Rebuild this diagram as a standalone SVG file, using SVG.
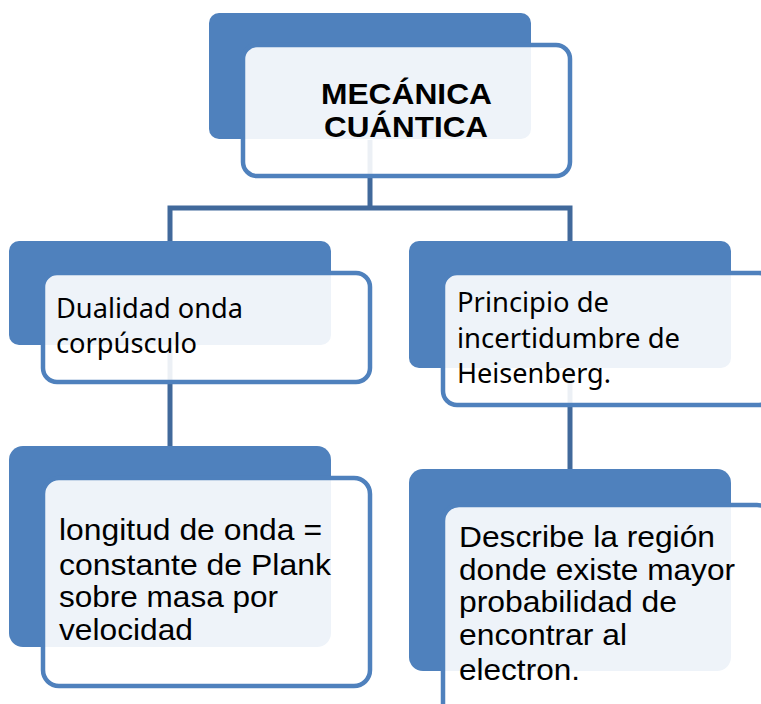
<svg xmlns="http://www.w3.org/2000/svg" width="761" height="704" viewBox="0 0 761 704">
<style>
.back{fill:#4F81BD}
.front{fill:#FFFFFF;fill-opacity:0.9;stroke:#4F81BD;stroke-width:4.5}
.conn{fill:none;stroke:#41699B;stroke-width:5}
.cal{font-family:"Noto Sans","Open Sans",sans-serif;font-size:26.5px;fill:#000}
.ari{font-family:"Liberation Sans",Arial,sans-serif;font-size:30px;fill:#000}
.title{font-family:"Liberation Sans",Arial,sans-serif;font-size:30px;font-weight:bold;fill:#000}
</style>
<rect width="761" height="704" fill="#FFFFFF"/>
<g id="connectors">
<path class="conn" d="M370,140 V208"/>
<path class="conn" d="M170,241 V208 H570 V241"/>
<path class="conn" d="M170,345 V446"/>
<path class="conn" d="M570,368 V469"/>
</g>
<g id="node-mecanica">
<rect class="back" x="209" y="13" width="322" height="126" rx="10"/>
<rect class="front" x="243" y="45" width="327" height="131" rx="14"/>
<text class="title" x="406.5" y="104" text-anchor="middle" textLength="171" lengthAdjust="spacingAndGlyphs">MECÁNICA</text>
<text class="title" x="406" y="137" text-anchor="middle" textLength="164" lengthAdjust="spacingAndGlyphs">CUÁNTICA</text>
</g>
<g id="node-dualidad">
<rect class="back" x="9" y="241" width="322" height="104" rx="10"/>
<rect class="front" x="43" y="273" width="327" height="109" rx="14"/>
<text class="cal" x="56" y="318" textLength="187" lengthAdjust="spacingAndGlyphs">Dualidad onda</text>
<text class="cal" x="56" y="353" textLength="141" lengthAdjust="spacingAndGlyphs">corpúsculo</text>
</g>
<g id="node-principio">
<rect class="back" x="409" y="241" width="322" height="127" rx="10"/>
<rect class="front" x="443" y="273" width="330" height="132" rx="14"/>
<text class="cal" x="457" y="312" textLength="152" lengthAdjust="spacingAndGlyphs">Principio de</text>
<text class="cal" x="457" y="348" textLength="223" lengthAdjust="spacingAndGlyphs">incertidumbre de</text>
<text class="cal" x="457" y="383" textLength="154" lengthAdjust="spacingAndGlyphs">Heisenberg.</text>
</g>
<g id="node-longitud">
<rect class="back" x="9" y="446" width="322" height="201" rx="14"/>
<rect class="front" x="43" y="478" width="327" height="208" rx="16"/>
<text class="ari" x="59" y="540" textLength="263" lengthAdjust="spacingAndGlyphs">longitud de onda =</text>
<text class="ari" x="59" y="575" textLength="272" lengthAdjust="spacingAndGlyphs">constante de Plank</text>
<text class="ari" x="59" y="607" textLength="219" lengthAdjust="spacingAndGlyphs">sobre masa por</text>
<text class="ari" x="59" y="640" textLength="134" lengthAdjust="spacingAndGlyphs">velocidad</text>
</g>
<g id="node-describe">
<rect class="back" x="409" y="469" width="322" height="202" rx="14"/>
<rect class="front" x="443" y="505" width="330" height="215" rx="16"/>
<text class="ari" x="459" y="547" textLength="256" lengthAdjust="spacingAndGlyphs">Describe la región</text>
<text class="ari" x="459" y="580" textLength="276" lengthAdjust="spacingAndGlyphs">donde existe mayor</text>
<text class="ari" x="459" y="612" textLength="218" lengthAdjust="spacingAndGlyphs">probabilidad de</text>
<text class="ari" x="459" y="645" textLength="168" lengthAdjust="spacingAndGlyphs">encontrar al</text>
<text class="ari" x="459" y="680" textLength="121" lengthAdjust="spacingAndGlyphs">electron.</text>
</g>
</svg>
